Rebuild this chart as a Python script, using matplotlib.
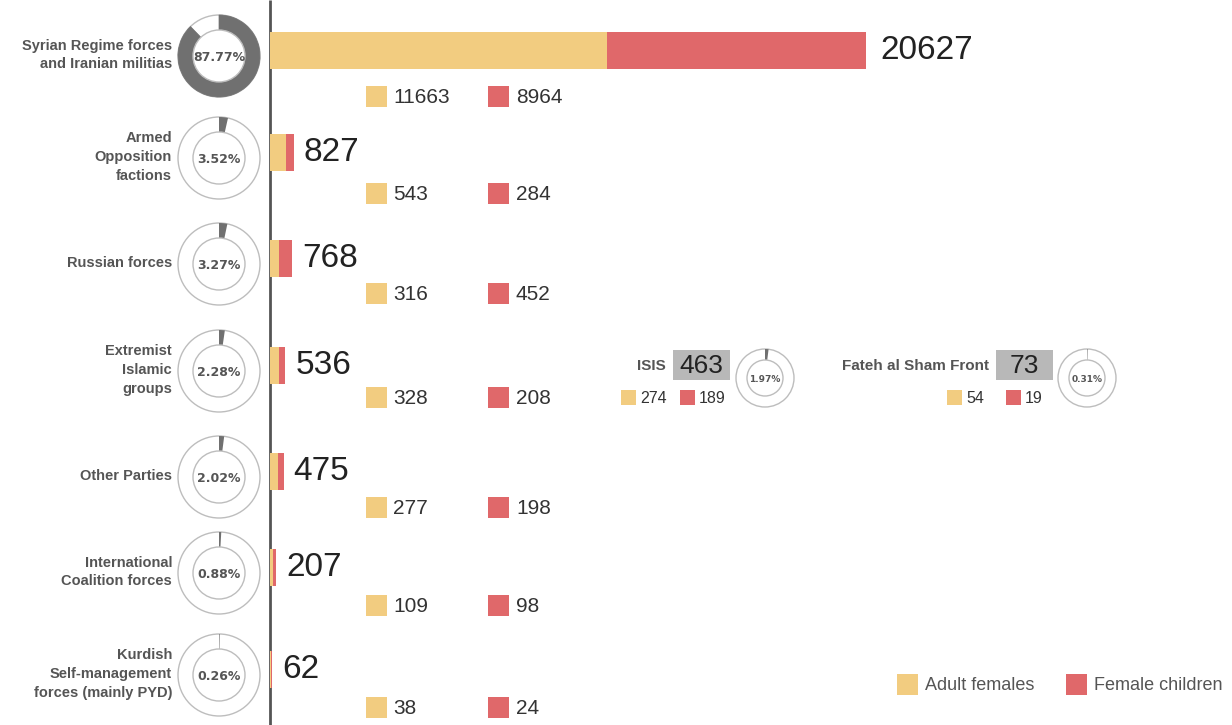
import matplotlib
matplotlib.use("Agg")
import matplotlib.pyplot as plt
from matplotlib.patches import Wedge, Circle, Rectangle
import matplotlib.transforms as mtransforms
from matplotlib import font_manager

# ---------------- data ----------------
categories = ["Syrian Regime forces\nand Iranian militias",
              "Armed\nOpposition\nfactions",
              "Russian forces",
              "Extremist\nIslamic\ngroups",
              "Other Parties",
              "International\nCoalition forces",
              "Kurdish\nSelf-management\nforces (mainly PYD)"]
totals = [20627, 827, 768, 536, 475, 207, 62]
adult_females = [11663, 543, 316, 328, 277, 109, 38]
female_children = [8964, 284, 452, 208, 198, 98, 24]
percentages = [87.77, 3.52, 3.27, 2.28, 2.02, 0.88, 0.26]

sub_groups = ["ISIS", "Fateh al Sham Front"]
sub_totals = [463, 73]
sub_adult = [274, 54]
sub_children = [189, 19]
sub_percentages = [1.97, 0.31]

legend_labels = ["Adult females", "Female children"]

# ---------------- style ----------------
YELLOW = "#F2CC80"
RED = "#E0686A"
DGRAY = "#707070"
LGRAY = "#BDBDBD"
TXT = "#555555"

names = {f.name for f in font_manager.fontManager.ttflist}
PCT_FONT = "Liberation Sans Narrow" if "Liberation Sans Narrow" in names else "DejaVu Sans"

W, H = 1232, 725
fig = plt.figure(figsize=(W / 100, H / 100), dpi=100)
fig.patch.set_facecolor("white")

# overlay axes in pixel coordinates
ov = fig.add_axes([0, 0, 1, 1])
ov.set_xlim(0, W)
ov.set_ylim(H, 0)
ov.axis("off")

# bar axes: x in data units, y in pixel rows
axis_x = 270
bar_px_for_max = 596  # pixel length of the largest bar
bx = fig.add_axes([axis_x / W, 0, 1 - axis_x / W, 1])
bx.set_ylim(H, 0)
xmax = totals[0] * (W - axis_x) / bar_px_for_max
bx.set_xlim(0, xmax)
bx.axis("off")
bx.patch.set_alpha(0)

row_y = [50, 152, 258, 365, 471, 567, 669]
sub_dy = [46, 41, 35, 32, 36, 38, 38]
bar_h = 37

bx.barh(row_y, adult_females, height=bar_h, color=YELLOW, linewidth=0)
bx.barh(row_y, female_children, left=adult_females, height=bar_h, color=RED, linewidth=0)

for y, t in zip(row_y, totals):
    off = 14 if t > 1000 else 10
    trans = mtransforms.offset_copy(bx.transData, fig=fig, x=off, y=0, units="dots")
    bx.text(t, y, str(t), transform=trans, ha="left", va="center",
            fontsize=24, family="Liberation Sans", color="#222222")

# vertical axis line
ov.plot([axis_x, axis_x], [0, H], color="#555555", lw=2, solid_capstyle="butt")

# sub legends (values per row)
sq = 21
for y, dy, a, c in zip(row_y, sub_dy, adult_females, female_children):
    yy = y + dy
    ov.add_patch(Rectangle((366, yy - sq / 2), sq, sq, color=YELLOW, lw=0))
    ov.text(393, yy + 1, str(a), ha="left", va="center", fontsize=15,
            family="Liberation Sans", color="#333333")
    ov.add_patch(Rectangle((488, yy - sq / 2), sq, sq, color=RED, lw=0))
    ov.text(516, yy + 1, str(c), ha="left", va="center", fontsize=15,
            family="Liberation Sans", color="#333333")


def donut(cx, cy, r_out, r_in, pct, big=False, fs=11):
    ang = 360 * pct / 100.0
    ov.add_patch(Circle((cx, cy), r_out, facecolor="white", edgecolor=LGRAY, lw=1.0))
    # y axis is inverted: data angle 270 is the top of the screen,
    # increasing data angle runs clockwise on screen
    ov.add_patch(Wedge((cx, cy), r_out, 270, 270 + ang, width=r_out - r_in,
                       facecolor=DGRAY, edgecolor=DGRAY if big else "none", lw=0.5))
    ov.add_patch(Circle((cx, cy), r_in, facecolor="white", edgecolor=LGRAY, lw=1.0))
    ov.text(cx, cy + 1, f"{pct:.2f}%", ha="center", va="center", fontsize=fs,
            family=PCT_FONT, fontweight="bold", color="#555555")


for i, (y, cat, p) in enumerate(zip(row_y, categories, percentages)):
    cy = y + 6
    donut(219, cy, 41, 26, p, big=(i == 0), fs=11.5 if PCT_FONT != "DejaVu Sans" else 9)
    ov.text(172, cy - 1, cat, ha="right", va="center", fontsize=10.5,
            family="Liberation Sans", fontweight="bold", color=TXT,
            linespacing=1.45)

# sub groups (ISIS, Fateh al Sham Front)
sub_box_x = [673, 996]
sub_donut_x = [765, 1087]
sub_sq_x = [621, 947]
for name, tot, a, c, p, bxp, dxp, sxp in zip(sub_groups, sub_totals, sub_adult, sub_children,
                                             sub_percentages, sub_box_x, sub_donut_x, sub_sq_x):
    yb = 365
    ov.add_patch(Rectangle((bxp, yb - 15), 57, 30, color="#B8B8B8", lw=0))
    ov.text(bxp + 28.5, yb + 1, str(tot), ha="center", va="center", fontsize=19,
            family="Liberation Sans", color="#222222")
    ov.text(bxp - 7, yb + 1, name, ha="right", va="center", fontsize=11,
            family="Liberation Sans", fontweight="bold", color=TXT)
    ys = 397
    s2 = 15
    ov.add_patch(Rectangle((sxp, ys - s2 / 2), s2, s2, color=YELLOW, lw=0))
    ov.text(sxp + 19, ys + 1, str(a), ha="left", va="center", fontsize=11.5,
            family="Liberation Sans", color="#333333")
    ov.add_patch(Rectangle((sxp + 59, ys - s2 / 2), s2, s2, color=RED, lw=0))
    ov.text(sxp + 78, ys + 1, str(c), ha="left", va="center", fontsize=11.5,
            family="Liberation Sans", color="#333333")
    donut(dxp, 378, 29, 18, p, fs=8 if PCT_FONT != "DejaVu Sans" else 6.5)

# legend
ly = 684
for lx, lab, col in zip([897, 1066], legend_labels, [YELLOW, RED]):
    ov.add_patch(Rectangle((lx, ly - 10.5), 21, 21, color=col, lw=0))
    ov.text(lx + 28, ly + 2, lab, ha="left", va="center", fontsize=13,
            family="Liberation Sans", color=TXT)

fig.savefig("out.png", dpi=100, facecolor="white")
